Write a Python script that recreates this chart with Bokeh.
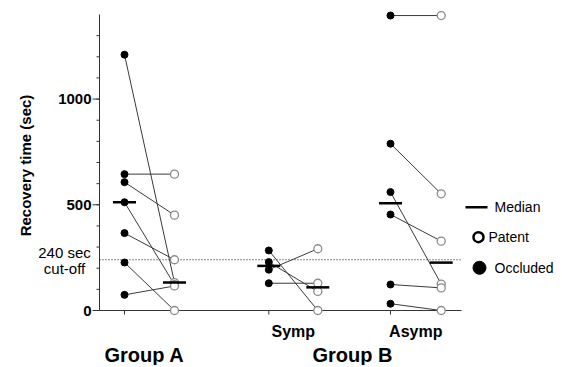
import numpy as np
from bokeh.plotting import figure
from bokeh.models import Range1d
from bokeh.core.properties import value
from bokeh.embed import file_html
from bokeh.resources import INLINE

# ---- data (recovery time, sec) ----
a_occluded = [1210, 645, 607, 512, 366, 227, 74]
a_patent = [132, 645, 451, 122, 240, 0, 116]
symp_occluded = [284, 229, 193, 129]
symp_patent = [0, 90, 292, 129]
asymp_occluded = [1395, 789, 560, 454, 123, 32]
asymp_patent = [1395, 552, 125, 328, 107, 0]
cutoff = 240
y_ticks = [0, 500, 1000]
y_tick_labels = ["0", "500", "1000"]
y_minor = list(range(100, 1400, 100))
y_top = 1400
subgroup_labels = ["Symp", "Asymp"]
group_labels = ["Group A", "Group B"]
legend_labels = ["Median", "Patent", "Occluded"]

# ---- layout helpers (page pixel -> data) ----
ORG = 0                     # observed page offset of the canvas
W, H = 560, 365
PXU = 296 / 1400.0          # px per data unit on y
PXX = 50.0                  # px per data unit on x
X0 = 0.5 - (99 - ORG) / PXX
Y1 = (310 - ORG) / PXU


def py(page_y):
    return (310 - page_y) / PXU


def px(page_x):
    return 0.5 + (page_x - 99) / PXX


pos = {
    "A": (1.0, 2.0),
    "S": (px(268.3), px(317.3)),
    "As": (px(390.0), px(440.7)),
}
pairs = [
    (pos["A"], a_occluded, a_patent),
    (pos["S"], symp_occluded, symp_patent),
    (pos["As"], asymp_occluded, asymp_patent),
]

FONT = value("Liberation Sans")
AX = "#333333"

p = figure(width=W, height=H, output_backend="svg", toolbar_location=None,
           x_range=Range1d(X0, X0 + W / PXX),
           y_range=Range1d(Y1 - H / PXU, Y1),
           x_axis_location=None, y_axis_location=None, min_border=0)
p.outline_line_color = None
p.grid.visible = False
p.background_fill_color = "white"

# ---- axes drawn by hand ----
x_axis_end = px(461)
p.segment(x0=[0.5], y0=[0], x1=[0.5], y1=[y_top], line_color=AX, line_width=1)
p.segment(x0=[0.5], y0=[0], x1=[x_axis_end], y1=[0], line_color=AX, line_width=1)
p.segment(x0=[px(92)] * len(y_ticks), y0=y_ticks, x1=[0.5] * len(y_ticks), y1=y_ticks,
          line_color=AX, line_width=1)
p.segment(x0=[px(96)] * len(y_minor), y0=y_minor, x1=[0.5] * len(y_minor), y1=y_minor,
          line_color=AX, line_width=1)
p.text(x=[px(91)] * len(y_ticks), y=y_ticks, text=y_tick_labels, text_font=FONT,
       text_font_style="bold", text_font_size="15px", text_align="right",
       text_baseline="middle", text_color="black")
xticks = [v for pr in pos.values() for v in pr]
p.segment(x0=xticks, y0=[0] * len(xticks), x1=xticks, y1=[py(314)] * len(xticks),
          line_color=AX, line_width=1)

# cut-off line
p.segment(x0=[0.5], y0=[cutoff], x1=[px(460)], y1=[cutoff],
          line_color="#111111", line_width=1, line_dash="1 2")

# paired lines
for (xo, xp), occ, pat in pairs:
    p.segment(x0=[xo] * len(occ), y0=occ, x1=[xp] * len(pat), y1=pat,
              line_color="#3a3a3a", line_width=1)

# markers
for (xo, xp), occ, pat in pairs:
    p.scatter(x=[xp] * len(pat), y=pat, size=8, marker="circle",
              fill_color="white", line_color="#8a8a8a", line_width=1.3)
    p.scatter(x=[xo] * len(occ), y=occ, size=7, marker="circle",
              fill_color="black", line_color="black")

# medians
hw = 0.23
for (xo, xp), occ, pat in pairs:
    mo, mp = float(np.median(occ)), float(np.median(pat))
    p.segment(x0=[xo - hw, xp - hw], y0=[mo, mp], x1=[xo + hw, xp + hw],
              y1=[mo, mp], line_color="black", line_width=2.5)

# legend
p.segment(x0=[px(465)], y0=[py(206.7)], x1=[px(487)], y1=[py(206.7)],
          line_color="black", line_width=2.5)
p.scatter(x=[px(478)], y=[py(236.7)], size=10, marker="circle",
          fill_color="white", line_color="black", line_width=2.5)
p.scatter(x=[px(479)], y=[py(267.3)], size=13, marker="circle",
          fill_color="black", line_color="black")
p.text(x=[px(494), px(488), px(494)], y=[py(206.7), py(236.7), py(267.3)],
       text=legend_labels, text_font=FONT, text_font_size="14px",
       text_align="left", text_baseline="middle", text_color="black")


def lab(txt, x, y, size, bold=True, align="center", baseline="middle", angle=0):
    p.text(x=[px(x)], y=[py(y)], text=[txt], text_font=FONT,
           text_font_size=size, text_font_style="bold" if bold else "normal",
           text_align=align, text_baseline=baseline, angle=angle,
           text_color="black")


lab(subgroup_labels[0], 292.8, 330.5, "16px")
lab(subgroup_labels[1], 415.3, 330.5, "16px")
lab(group_labels[0], 144, 354, "20px")
lab(group_labels[1], 352, 354, "20px")
lab("240 sec", 64, 251.5, "15px", bold=False)
lab("cut-off", 64, 267.5, "15px", bold=False)
lab("Recovery time (sec)", 25, 165, "15px", angle=np.pi / 2)

open("out.html", "w").write(file_html(p, INLINE))
